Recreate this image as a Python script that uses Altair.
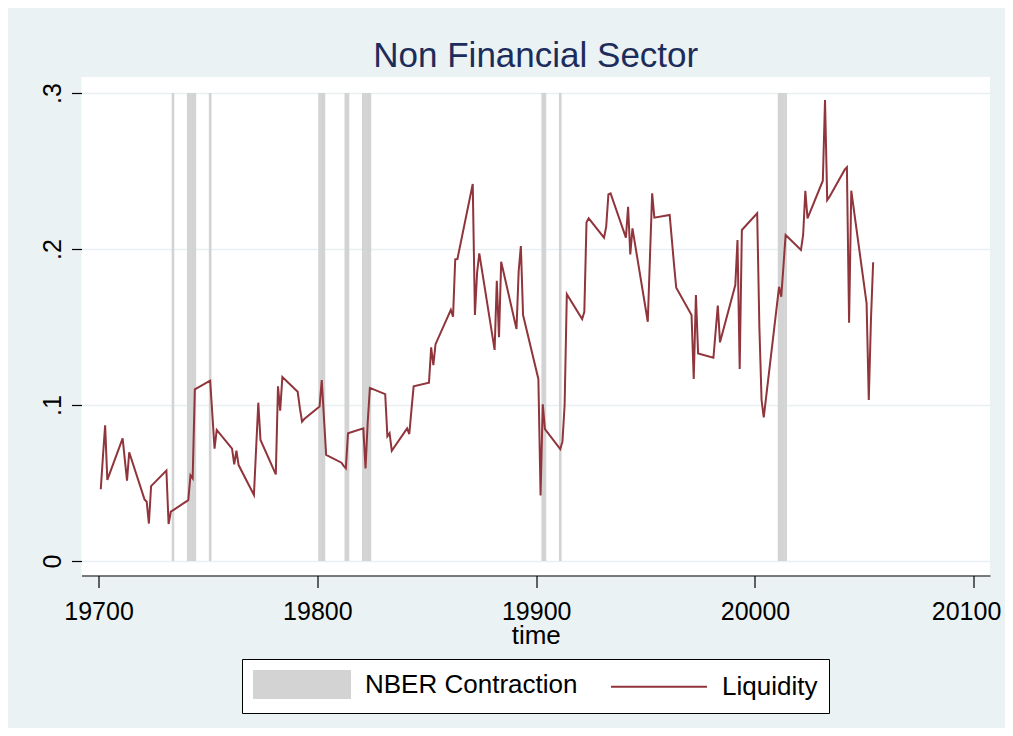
import altair as alt
import pandas as pd

# ---- data -------------------------------------------------------------
years = list(range(1970, 2006))
quarters = [1, 2, 3, 4]

# Liquidity, one row per year (Q1..Q4)
liquidity = [
    0.046, 0.067, 0.087, 0.052,     # 1970
    0.0786, 0.065, 0.0515, 0.0697,  # 1971
    0.0395, 0.038, 0.024, 0.048,    # 1972
    0.058, 0.0237, 0.0316, 0.0325,  # 1973
    0.039, 0.055, 0.053, 0.110,     # 1974
    0.1156, 0.094, 0.072, 0.084,    # 1975
    0.072, 0.062, 0.0707, 0.0615,   # 1976
    0.0423, 0.072, 0.1015, 0.0776,  # 1977
    0.0555, 0.112, 0.0964, 0.118,   # 1978
    0.1085, 0.098, 0.0893, 0.091,   # 1979
    0.099, 0.116, 0.092, 0.068,     # 1980
    0.063, 0.061, 0.0594, 0.0819,   # 1981
    0.085, 0.0594, 0.089, 0.111,    # 1982
    0.107, 0.080, 0.082, 0.0707,    # 1983
    0.085, 0.0814, 0.097, 0.112,    # 1984
    0.1143, 0.137, 0.1256, 0.139,   # 1985
    0.161, 0.1566, 0.1934, 0.1936,  # 1986
    0.2417, 0.1577, 0.185, 0.1972,  # 1987
    0.1353, 0.1797, 0.1434, 0.1919, # 1988
    0.1487, 0.186, 0.2019, 0.1577,  # 1989
    0.1167, 0.042, 0.1004, 0.0846,  # 1990
    0.0718, 0.0765, 0.100, 0.171,   # 1991
    0.1551, 0.1598, 0.2171, 0.2197, # 1992
    0.2073, 0.2143, 0.235, 0.2357,  # 1993
    0.2073, 0.2271, 0.1966, 0.2132, # 1994
    0.1534, 0.195, 0.2357, 0.2201,  # 1995
    0.2218, 0.206, 0.19, 0.1752,    # 1996
    0.1577, 0.1167, 0.1705, 0.1331, # 1997
    0.1303, 0.147, 0.1637, 0.1402,  # 1998
    0.1769, 0.2058, 0.1231, 0.2122, # 1999
    0.2229, 0.15, 0.1032, 0.0921,   # 2000
    0.1758, 0.1694, 0.189, 0.209,   # 2001
    0.1994, 0.209, 0.2374, 0.2197,  # 2002
    0.2438, 0.2955, 0.2314, 0.2334, # 2003
    0.2509, 0.2524, 0.1528, 0.2374, # 2004
    0.1652, 0.1032, 0.155, 0.1915,  # 2005
]

# NBER contraction quarters (time = year*10 + quarter)
nber_quarters = [19734, 19741, 19742, 19743, 19744, 19751,
                 19801, 19802, 19803,
                 19813, 19814, 19821, 19822, 19823, 19824,
                 19903, 19904, 19911,
                 20011, 20012, 20013, 20014]
nber_top = 0.3

series_names = ["NBER Contraction", "Liquidity"]
series_colors = ["#D3D3D3", "#90353B"]
x_ticks = [19700, 19800, 19900, 20000, 20100]
y_ticks = [0, 0.1, 0.2, 0.3]

# ---- tables -------------------------------------------------------------
time = [10 * y + q for y in years for q in quarters]
line_df = pd.DataFrame({"time": time, "value": liquidity, "series": "Liquidity"})
band_df = pd.DataFrame({
    "start": [q - 0.6 for q in nber_quarters],
    "end": [q + 0.6 for q in nber_quarters],
    "base": 0.0,
    "top": nber_top,
    "series": "NBER Contraction",
})

FONT = "Liberation Sans, Arial, sans-serif"

xscale = alt.Scale(domain=[19692.2, 20107.4], nice=False, zero=False)
yscale = alt.Scale(domain=[-0.0093, 0.3103], nice=False, zero=False)

xaxis = alt.Axis(values=x_ticks, format="d", title="time", grid=False,
                 tickSize=12, labelPadding=12, titleY=68,
                 labelFlush=16.6, labelFlushOffset=27,
                 titleBaseline="alphabetic", titleFontSize=26,
                 titleFontWeight="normal", titleColor="black", titleFont=FONT)
yaxis = alt.Axis(values=y_ticks, title=None, grid=True, domain=False,
                 tickSize=10, labelAngle=270, labelAlign="center",
                 labelBaseline="bottom", labelPadding=6,
                 labelExpr="datum.value == 0 ? '0' : replace(format(datum.value, '.1f'), '0.', '.')")

legend = alt.Legend(
    title=None, orient="none", legendX=160.5, legendY=582,
    direction="horizontal",
    symbolType={"expr": "datum.value == 'Liquidity' ? 'M-1,0H6.11' : 'M-1,-1H6.11V1H-1Z'"},
    symbolSize=729, symbolStrokeWidth=2,
    symbolFillColor={"expr": "datum.value == 'Liquidity' ? 'transparent' : '#D3D3D3'"},
    symbolStrokeColor={"expr": "datum.value == 'Liquidity' ? '#90353B' : '#D3D3D3'"},
    labelOffset=83, columnPadding=29, padding=11, labelLimit=400,
    strokeColor="black", fillColor="white",
    labelFont=FONT, labelFontSize=26, labelColor="black",
)

color = alt.Color("series:N", scale=alt.Scale(domain=series_names, range=series_colors),
                  legend=legend)

bands = alt.Chart(band_df).mark_rect().encode(
    x=alt.X("start:Q", scale=xscale, axis=xaxis),
    x2="end:Q",
    y=alt.Y("base:Q", scale=yscale, axis=yaxis),
    y2="top:Q",
    color=color,
)

line = alt.Chart(line_df).mark_line(strokeWidth=2).encode(
    x=alt.X("time:Q", scale=xscale, axis=xaxis),
    y=alt.Y("value:Q", scale=yscale, axis=yaxis),
    color=color,
)

chart = alt.layer(bands, line).properties(
    width=908.5, height=498.5,
    title=alt.TitleParams("Non Financial Sector", fontSize=35, font=FONT,
                          color="#1C2C5B", fontWeight="normal", anchor="middle",
                          offset=10, baseline="alphabetic", dy=35),
    autosize=alt.AutoSizeParams(type="none"),
    padding={"left": 73.5, "top": 69, "right": 15, "bottom": 152.5},
    background="#EAF2F3",
).configure_view(fill="white", stroke=None).configure_axis(
    labelFont=FONT, labelFontSize=25, labelColor="black",
    tickColor="black", domainColor="black", domainWidth=1.2, tickWidth=1.2,
    gridColor="#E8F0F2", gridWidth=1.5,
)

chart.save("out.html", embed_options={"renderer": "svg", "actions": False})
